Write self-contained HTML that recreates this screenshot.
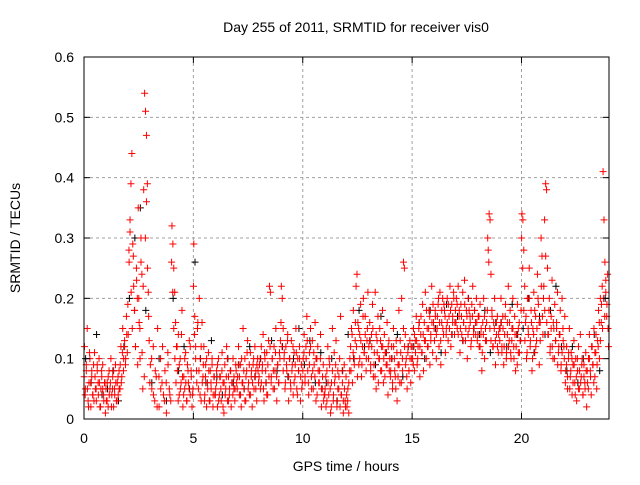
<!DOCTYPE html>
<html><head><meta charset="utf-8"><style>
body{margin:0;background:#fff;}
svg text{font-family:"Liberation Sans","DejaVu Sans",sans-serif;font-size:14px;fill:#000;}
</style></head><body>
<svg id="chart" width="640" height="480" xmlns="http://www.w3.org/2000/svg">
<rect width="640" height="480" fill="#fff"/>
<g id="grid"></g>
<g id="black"></g>
<g id="red"></g>
<rect x="84" y="57" width="525" height="362" fill="none" stroke="#000" stroke-width="1"/>
<g id="ticks"></g>
<text x="356" y="32" text-anchor="middle">Day 255 of 2011, SRMTID for receiver vis0</text>
<text x="346" y="471" text-anchor="middle">GPS time / hours</text>
<text x="20" y="238" text-anchor="middle" transform="rotate(-90 20 238)">SRMTID / TECUs</text>
</svg>
<script>
const xTicks=[0,5,10,15,20];
const yTicks=[0,0.1,0.2,0.3,0.4,0.5,0.6];
const yTickLabels=["0","0.1","0.2","0.3","0.4","0.5","0.6"];
// red values per hour (points spread evenly through each hour)
const redHours=[
[0.12,0.05,0.08,0.15,0.03,0.06,0.1,0.02,0.07,0.04,0.09,0.11,0.05,0.03,0.08,0.06,0.1,0.02,0.05,0.07,0.09,0.04,0.06,0.01],
[0.03,0.06,0.02,0.08,0.05,0.1,0.04,0.07,0.02,0.05,0.09,0.03,0.06,0.04,0.08,0.05,0.12,0.07,0.15,0.1,0.13,0.09,0.17,0.11],
[0.14,0.26,0.31,0.39,0.44,0.29,0.22,0.18,0.12,0.25,0.2,0.35,0.16,0.1,0.3,0.24,0.05,0.38,0.54,0.51,0.47,0.39,0.21,0.13],
[0.09,0.05,0.12,0.03,0.07,0.15,0.02,0.1,0.06,0.04,0.08,0.01,0.11,0.05,0.03],
[0.32,0.29,0.25,0.21,0.16,0.12,0.08,0.14,0.04,0.1,0.06,0.18,0.02,0.07,0.05,0.11,0.03,0.09,0.06,0.13,0.04,0.08,0.02,0.05],
[0.29,0.17,0.12,0.08,0.15,0.05,0.2,0.1,0.03,0.16,0.07,0.12,0.04,0.09,0.02,0.06,0.11,0.03,0.08,0.05,0.1,0.02,0.07,0.04],
[0.05,0.08,0.02,0.1,0.04,0.07,0.03,0.11,0.06,0.01,0.09,0.05,0.12,0.03,0.07,0.04,0.08,0.02,0.06,0.1,0.05,0.03,0.09,0.06],
[0.07,0.12,0.04,0.09,0.02,0.06,0.15,0.05,0.1,0.03,0.08,0.13,0.06,0.04,0.11,0.07,0.02,0.09,0.05,0.12,0.08,0.03,0.1,0.06],
[0.09,0.05,0.12,0.08,0.14,0.03,0.1,0.06,0.11,0.04,0.13,0.22,0.21,0.07,0.1,0.05,0.12,0.08,0.15,0.03,0.09,0.06,0.11,0.13],
[0.22,0.2,0.15,0.1,0.05,0.12,0.08,0.14,0.03,0.1,0.06,0.13,0.09,0.04,0.11,0.07,0.15,0.05,0.1,0.08,0.12,0.03,0.09,0.06],
[0.1,0.14,0.06,0.12,0.17,0.08,0.04,0.11,0.15,0.07,0.13,0.05,0.09,0.16,0.03,0.1,0.12,0.06,0.08,0.14,0.02,0.05,0.09,0.04],
[0.05,0.02,0.08,0.12,0.04,0.09,0.01,0.06,0.15,0.03,0.11,0.07,0.13,0.02,0.08,0.05,0.1,0.17,0.04,0.06,0.01,0.09,0.03,0.07],
[0.02,0.05,0.01,0.08,0.12,0.15,0.06,0.18,0.1,0.13,0.22,0.24,0.16,0.09,0.14,0.19,0.07,0.12,0.2,0.11,0.17,0.08,0.13,0.21],
[0.12,0.16,0.09,0.14,0.19,0.07,0.11,0.21,0.05,0.13,0.17,0.1,0.15,0.08,0.12,0.18,0.06,0.14,0.11,0.09,0.16,0.04,0.13,0.1],
[0.08,0.12,0.05,0.15,0.1,0.07,0.13,0.03,0.09,0.18,0.06,0.11,0.2,0.08,0.26,0.25,0.14,0.1,0.05,0.12,0.08,0.13,0.06,0.1],
[0.1,0.15,0.08,0.13,0.17,0.09,0.12,0.16,0.07,0.14,0.11,0.19,0.08,0.13,0.21,0.1,0.15,0.12,0.18,0.09,0.14,0.22,0.11,0.16],
[0.13,0.17,0.1,0.15,0.19,0.12,0.21,0.09,0.16,0.2,0.14,0.18,0.11,0.15,0.2,0.13,0.17,0.22,0.12,0.19,0.16,0.21,0.14,0.18],
[0.2,0.15,0.22,0.17,0.11,0.19,0.14,0.21,0.16,0.23,0.13,0.18,0.1,0.2,0.15,0.17,0.12,0.19,0.22,0.14,0.18,0.16,0.2,0.13],
[0.17,0.12,0.19,0.14,0.08,0.16,0.2,0.1,0.15,0.13,0.18,0.28,0.34,0.33,0.24,0.18,0.12,0.16,0.2,0.09,0.14,0.17,0.11,0.15],
[0.15,0.2,0.12,0.17,0.09,0.14,0.19,0.11,0.16,0.22,0.13,0.18,0.1,0.15,0.2,0.12,0.17,0.08,0.14,0.19,0.11,0.16,0.13,0.18],
[0.34,0.33,0.28,0.22,0.16,0.1,0.2,0.14,0.25,0.12,0.18,0.08,0.15,0.21,0.11,0.17,0.13,0.24,0.19,0.09,0.16,0.3,0.27,0.14],
[0.22,0.18,0.39,0.38,0.25,0.14,0.2,0.12,0.17,0.23,0.1,0.15,0.19,0.13,0.16,0.21,0.11,0.14,0.18,0.09,0.2,0.15,0.12,0.17],
[0.08,0.12,0.05,0.1,0.15,0.07,0.11,0.04,0.09,0.13,0.06,0.1,0.03,0.08,0.12,0.05,0.14,0.07,0.1,0.04,0.09,0.06,0.11,0.02],
[0.06,0.1,0.14,0.08,0.04,0.12,0.09,0.15,0.07,0.11,0.05,0.13,0.18,0.1,0.2,0.16,0.22,0.41,0.33,0.26,0.21,0.17,0.24,0.12]
];
// second red pass (more readings, interleaved in time)
const redHours2=[
[0.07,0.04,0.09,0.05,0.02,0.11,0.06,0.08,0.04,0.03,0.07,0.05,0.09,0.04,0.06,0.02,0.08,0.05,0.03,0.06],
[0.05,0.03,0.07,0.04,0.06,0.02,0.05,0.08,0.04,0.06,0.03,0.07,0.05,0.09,0.06,0.11,0.08,0.12,0.1,0.14],
[0.19,0.28,0.33,0.21,0.15,0.27,0.18,0.12,0.23,0.09,0.2,0.15,0.26,0.11,0.22,0.07,0.3,0.36,0.25,0.17],
[0.06,0.1,0.04,0.08,0.02,0.07,0.05,0.12,0.03,0.06,0.09,0.04],
[0.26,0.21,0.15,0.1,0.06,0.12,0.03,0.09,0.05,0.14,0.07,0.04,0.1,0.06,0.03,0.08,0.05,0.12,0.07,0.04],
[0.22,0.14,0.1,0.06,0.16,0.08,0.04,0.12,0.06,0.09,0.03,0.07,0.1,0.05,0.08,0.03,0.06,0.09,0.04,0.07],
[0.04,0.06,0.09,0.03,0.07,0.05,0.08,0.02,0.06,0.04,0.07,0.1,0.03,0.05,0.08,0.06,0.04,0.07,0.05,0.08],
[0.05,0.09,0.07,0.04,0.1,0.06,0.08,0.03,0.07,0.11,0.05,0.09,0.04,0.08,0.06,0.1,0.07,0.05,0.09,0.08],
[0.07,0.1,0.06,0.09,0.05,0.11,0.08,0.04,0.09,0.07,0.12,0.06,0.1,0.08,0.05,0.11,0.07,0.09,0.06,0.1],
[0.16,0.12,0.08,0.11,0.06,0.09,0.13,0.07,0.1,0.05,0.08,0.12,0.06,0.09,0.11,0.04,0.08,0.1,0.07,0.05],
[0.08,0.11,0.07,0.1,0.13,0.06,0.09,0.12,0.05,0.08,0.11,0.07,0.1,0.04,0.08,0.06,0.1,0.05,0.07,0.03],
[0.04,0.07,0.03,0.06,0.1,0.05,0.02,0.08,0.04,0.06,0.09,0.03,0.05,0.07,0.02,0.04,0.08,0.03,0.05,0.02],
[0.04,0.03,0.06,0.1,0.08,0.14,0.11,0.09,0.16,0.12,0.07,0.15,0.1,0.13,0.09,0.17,0.11,0.14,0.1,0.15],
[0.1,0.13,0.08,0.12,0.15,0.09,0.07,0.14,0.11,0.06,0.1,0.13,0.08,0.12,0.1,0.07,0.11,0.09,0.12,0.08],
[0.07,0.1,0.06,0.12,0.08,0.05,0.11,0.07,0.09,0.13,0.06,0.1,0.15,0.12,0.09,0.07,0.11,0.08,0.1,0.12],
[0.12,0.09,0.14,0.11,0.13,0.1,0.15,0.12,0.17,0.11,0.14,0.16,0.13,0.18,0.12,0.15,0.17,0.13,0.16,0.19],
[0.15,0.18,0.14,0.17,0.2,0.16,0.13,0.18,0.15,0.19,0.17,0.14,0.16,0.19,0.15,0.18,0.14,0.17,0.2,0.16],
[0.16,0.19,0.14,0.18,0.15,0.17,0.13,0.16,0.19,0.15,0.17,0.14,0.18,0.16,0.13,0.17,0.15,0.18,0.14,0.16],
[0.14,0.17,0.12,0.15,0.11,0.14,0.17,0.13,0.16,0.3,0.26,0.15,0.13,0.17,0.12,0.15,0.13,0.16,0.12,0.14],
[0.13,0.16,0.11,0.15,0.12,0.17,0.1,0.14,0.12,0.16,0.11,0.13,0.15,0.1,0.14,0.12,0.09,0.15,0.11,0.13],
[0.3,0.25,0.18,0.13,0.17,0.11,0.15,0.2,0.13,0.16,0.1,0.14,0.18,0.12,0.15,0.2,0.16,0.13,0.22,0.17],
[0.2,0.33,0.27,0.16,0.14,0.18,0.11,0.15,0.12,0.16,0.1,0.13,0.15,0.09,0.12,0.14,0.08,0.11,0.13,0.1],
[0.06,0.09,0.07,0.11,0.05,0.08,0.1,0.06,0.09,0.04,0.07,0.1,0.05,0.08,0.06,0.09,0.04,0.07,0.05,0.08],
[0.08,0.05,0.1,0.07,0.12,0.09,0.06,0.11,0.14,0.09,0.12,0.16,0.13,0.19,0.15,0.2,0.17,0.23,0.19,0.15]
];
// black (underlying) values per hour
const blackHours=[
[0.1,0.06,0.14,0.04],[0.05,0.08,0.03,0.12],[0.2,0.3,0.35,0.18],[0.06,0.1,0.03],[0.2,0.08,0.12,0.05],[0.26,0.1,0.06,0.13],
[0.07,0.04,0.1,0.06],[0.09,0.05,0.12,0.07],[0.1,0.06,0.13,0.08],[0.12,0.07,0.1,0.15],[0.09,0.13,0.06,0.11],[0.06,0.1,0.03,0.08],
[0.14,0.1,0.18,0.12],[0.13,0.09,0.17,0.11],[0.1,0.14,0.07,0.12],[0.12,0.16,0.1,0.18],[0.15,0.11,0.19,0.14],[0.17,0.13,0.2,0.15],
[0.14,0.18,0.11,0.16],[0.16,0.12,0.19,0.14],[0.15,0.2,0.11,0.17],[0.14,0.18,0.22,0.12],[0.08,0.12,0.06,0.1],[0.1,0.14,0.08,0.2]
];
const X0=84,X1=609,Y0=419,Y1=57,XMAX=24,YMAX=0.6;
const sx=h=>X0+h/XMAX*(X1-X0);
const sy=v=>Y0-v/YMAX*(Y0-Y1);
const NS="http://www.w3.org/2000/svg";
function mk(tag,attrs,parent){const e=document.createElementNS(NS,tag);for(const k in attrs)e.setAttribute(k,attrs[k]);parent.appendChild(e);return e;}
const grid=document.getElementById('grid'),ticks=document.getElementById('ticks');
xTicks.forEach(t=>{
  const x=sx(t);
  if(t>0){const g=mk('line',{x1:x,x2:x,y1:Y1,y2:Y0,stroke:'#a0a0a0','stroke-dasharray':'3,3'},grid);
  
  }
  mk('line',{x1:x,x2:x,y1:Y0,y2:Y0-6,stroke:'#000'},ticks);
  mk('line',{x1:x,x2:x,y1:Y1,y2:Y1+6,stroke:'#000'},ticks);
  const l=mk('text',{x:x,y:Y0+24,'text-anchor':'middle'},ticks);l.textContent=t;
  
  
});
yTicks.forEach((t,i)=>{
  const y=sy(t);
  if(t>0&&t<YMAX){const g=mk('line',{x1:X0,x2:X1,y1:y,y2:y,stroke:'#a0a0a0','stroke-dasharray':'3,3'},grid);
  
  }
  mk('line',{x1:X0,x2:X0+6,y1:y,y2:y,stroke:'#000'},ticks);
  mk('line',{x1:X1,x2:X1-6,y1:y,y2:y,stroke:'#000'},ticks);
  const l=mk('text',{x:X0-10,y:y+5,'text-anchor':'end'},ticks);l.textContent=yTickLabels[i];
  
  
});
function plot(hours,gid,color,off,name){
  const g=document.getElementById(gid);
  hours.forEach((vals,h)=>{
    vals.forEach((v,i)=>{
      const x=sx(h+(i+off)/vals.length),y=sy(v);
      const p=mk('path',{d:`M${x-3.5},${y}h7M${x},${y-3.5}v7`,stroke:color,'stroke-width':1,fill:'none'},g);
      
      
    });
  });
}
plot(blackHours,'black','#000',0.3,'black-point');
plot(redHours,'red','#ff0000',0.5,'red-point');
plot(redHours2,'red','#ff0000',0.1,'red-point');
</script>
</body></html>
